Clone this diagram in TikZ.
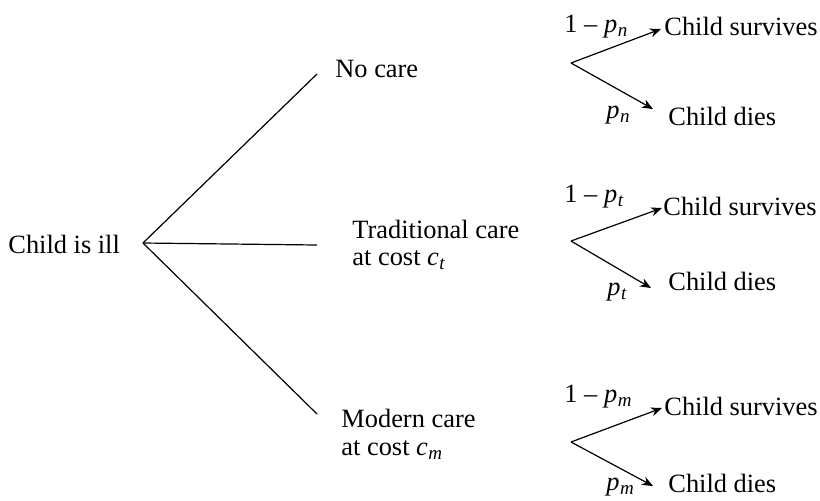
\documentclass[tikz,border=0pt]{standalone}
\usepackage{fontspec}
\setmainfont{Liberation Serif}
\usetikzlibrary{arrows.meta}
\newcommand\sbs[2]{\textit{#1}\kern0.3pt\raisebox{-0.4ex}{\fontsize{9.5}{9.5}\selectfont\textit{#2}}}
\begin{document}
\begin{tikzpicture}[x=0.5pt,y=-0.5pt,
  txt/.style={anchor=base west,inner sep=0pt,font=\fontsize{13.2}{13.6}\selectfont},
  two/.style={txt,align=left},
  branch/.style={line width=0.6pt},
  arr/.style={line width=0.6pt,-{Stealth[length=5.5pt,width=4.5pt]}}]
\useasboundingbox (0,0) rectangle (820,500);
% root
\node[txt] (ill) at (8,253) {Child is ill};
\coordinate (root) at (143,243);
% first-level ends
\coordinate (eN) at (317,74);
\coordinate (eT) at (317,245);
\coordinate (eM) at (317,414);
\node[txt] (nocare) at (335,77) {No care};
\node[txt] (trad) at (352,238) {Traditional care};
\node[txt] (tradc) at (352,265) {at cost \sbs{c}{t}};
\node[txt] (mod) at (341,427) {Modern care};
\node[txt] (modc) at (341,455) {at cost \sbs{c}{m}};
\draw[branch] (root) -- (eN);
\draw[branch] (root) -- (eT);
\draw[branch] (root) -- (eM);
% top cluster
\coordinate (vN) at (571,63);
\coordinate (uN) at (661,29);
\coordinate (dN) at (653,109);
\node[txt] (lN1) at (564,32) {1 – \sbs{p}{n}};
\node[txt] (lN2) at (606,118) {\sbs{p}{n}};
\node[txt] (sN) at (664,35) {Child survives};
\node[txt] (xN) at (668,125) {Child dies};
\draw[arr] (vN) -- (uN);
\draw[arr] (vN) -- (dN);
% middle cluster
\coordinate (vT) at (571,241);
\coordinate (uT) at (662,208);
\coordinate (dT) at (651,288);
\node[txt] (lT1) at (564,202) {1 – \sbs{p}{t}};
\node[txt] (lT2) at (607,295) {\sbs{p}{t}};
\node[txt] (sT) at (663,215) {Child survives};
\node[txt] (xT) at (668,290) {Child dies};
\draw[arr] (vT) -- (uT);
\draw[arr] (vT) -- (dT);
% bottom cluster
\coordinate (vM) at (571,442);
\coordinate (uM) at (662,408);
\coordinate (dM) at (653,486);
\node[txt] (lM1) at (564,402) {1 – \sbs{p}{m}};
\node[txt] (lM2) at (606,490) {\sbs{p}{m}};
\node[txt] (sM) at (664,415) {Child survives};
\node[txt] (xM) at (668,492) {Child dies};
\draw[arr] (vM) -- (uM);
\draw[arr] (vM) -- (dM);
\end{tikzpicture}
\end{document}
